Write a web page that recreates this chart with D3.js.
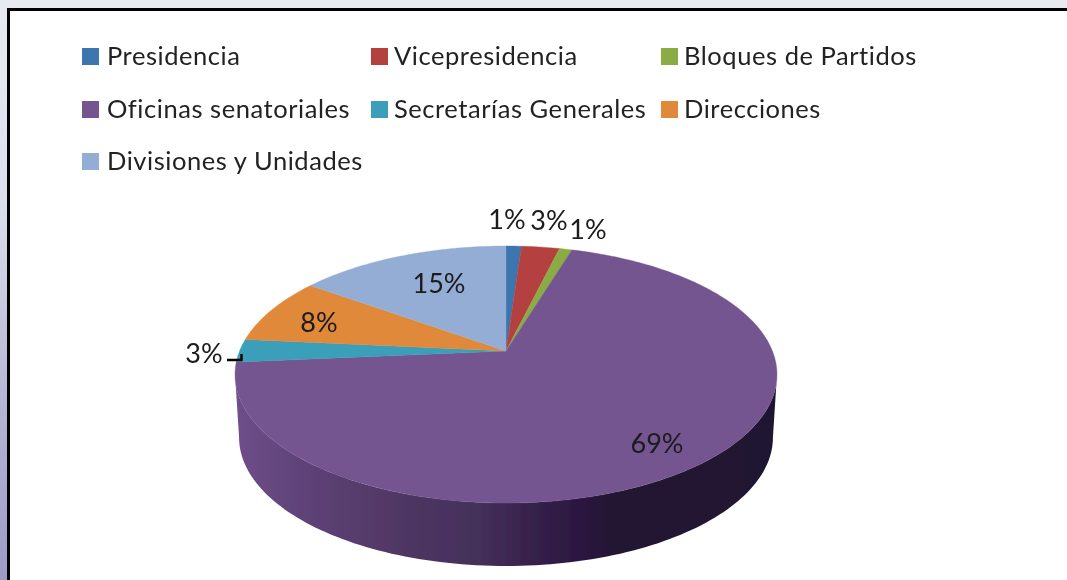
<!DOCTYPE html>
<html><head><meta charset="utf-8">
<script src="https://cdn.jsdelivr.net/npm/d3@7"></script>
<style>html,body{margin:0;padding:0;background:#fff;overflow:hidden}svg{display:block}</style>
</head><body><svg id="c" width="1067" height="580"></svg>
<script>
const categories = ["Presidencia","Vicepresidencia","Bloques de Partidos","Oficinas senatoriales","Secretarías Generales","Direcciones","Divisiones y Unidades"];
const values = [1.1,2.7,0.9,68.9,2.9,8.4,15.1];
const colors = ["#3c74ae","#b5413f","#8aac45","#75558f","#3a9fb9","#e0893a","#94add4"];

const W=1067,H=580;
const svg=d3.select("#c");
const defs=svg.append("defs");
const bg=defs.append("linearGradient").attr("id","bg").attr("x1",0).attr("y1",0).attr("x2",0).attr("y2",1);
[[0,"#e8eaf2"],[.35,"#dcdeeb"],[.7,"#b4b5d3"],[1,"#9a9cc5"]].forEach(d=>bg.append("stop").attr("offset",d[0]).attr("stop-color",d[1]));
const wall=defs.append("linearGradient").attr("id","wall").attr("gradientUnits","userSpaceOnUse").attr("x1",235).attr("x2",776).attr("y1",0).attr("y2",0);
[[0,"#6f4e8a"],[.12,"#5f4378"],[.3,"#503764"],[.45,"#44305a"],[.56,"#35204a"],[.64,"#2b1740"],[.7,"#231633"],[1,"#1f1430"]].forEach(d=>wall.append("stop").attr("offset",d[0]).attr("stop-color",d[1]));
defs.append("filter").attr("id","soft").append("feGaussianBlur").attr("stdDeviation",0.7);

svg.append("rect").attr("width",W).attr("height",H).attr("fill","url(#bg)");
svg.append("rect").attr("x",8.5).attr("y",9.5).attr("width",W).attr("height",H).attr("fill","#fff").attr("stroke","#000").attr("stroke-width",3);

// perspective projection of the unit disc
const cx=506,cy=351,a=0.183,sx=266.4,sy=124.2;
const project=(x,y)=>{const w=1-a*y;return [cx+sx*x/w,cy+sy*y/w];};
const rim=phi=>project(Math.sin(phi),-Math.cos(phi));
const depth=63,shrink=0.985;
const lower=phi=>{const p=rim(phi);return [cx+(p[0]-cx)*shrink,p[1]+depth];};
const line=d3.line();

const arcs=d3.pie().sort(null)(values);
const g=svg.append("g").attr("filter","url(#soft)");

// wall (front part of the oficinas slice edge)
const lo=Math.PI/2+Math.asin(a),hi=3*Math.PI/2-Math.asin(a);
const scale=d3.scaleLinear().domain([0,120]).range([lo,hi]);
const ts=d3.range(121).map(scale);
const wallPts=ts.map(rim).concat(ts.slice().reverse().map(lower));
g.append("path").attr("d",line(wallPts)+"Z").attr("fill","url(#wall)");

// top face
g.selectAll("path.slice").data(arcs).join("path").attr("class","slice")
 .attr("fill",(d,i)=>colors[i])
 .attr("stroke",(d,i)=>colors[i]).attr("stroke-width",0.4)
 .attr("d",d=>{
   const n=Math.max(4,Math.ceil((d.endAngle-d.startAngle)*60));
   const s=d3.scaleLinear().domain([0,n]).range([d.startAngle,d.endAngle]);
   return line([[cx,cy]].concat(d3.range(n+1).map(i=>rim(s(i)))))+"Z";
 });

// legend
const legendCols=[82,371,661],legendRows=[57,110,162];
const leg=svg.append("g").attr("filter","url(#soft)");
categories.forEach((c,i)=>{
  const col=legendCols[i%3],row=legendRows[Math.floor(i/3)];
  leg.append("rect").attr("x",col).attr("y",row-9).attr("width",17).attr("height",17).attr("fill",colors[i]);
  leg.append("text").attr("x",col+(i%3===0?25:23)).attr("y",row+8)
    .attr("font-family","Lato, 'Open Sans', sans-serif").attr("font-size",25.5).attr("letter-spacing",0.55)
    .attr("fill","#222").text(c);
});

// data labels
const labelPos=[[507,220],[549,221],[588,230],[657,444],[204,354],[319,323],[439,284]];
const fmt=d3.format(".0f");
leg.selectAll("text.lab").data(values).join("text").attr("class","lab")
  .attr("x",(d,i)=>labelPos[i][0]).attr("y",(d,i)=>labelPos[i][1]+9)
  .attr("text-anchor","middle").attr("font-family","Lato, 'Open Sans', sans-serif").attr("font-size",27)
  .attr("fill","#1a1a1a").text(d=>fmt(d)+"%");

// leader line
leg.append("path").attr("d",line([[227,360],[241.5,360],[241.5,354]])).attr("fill","none").attr("stroke","#000").attr("stroke-width",2.4);
</script></body></html>
